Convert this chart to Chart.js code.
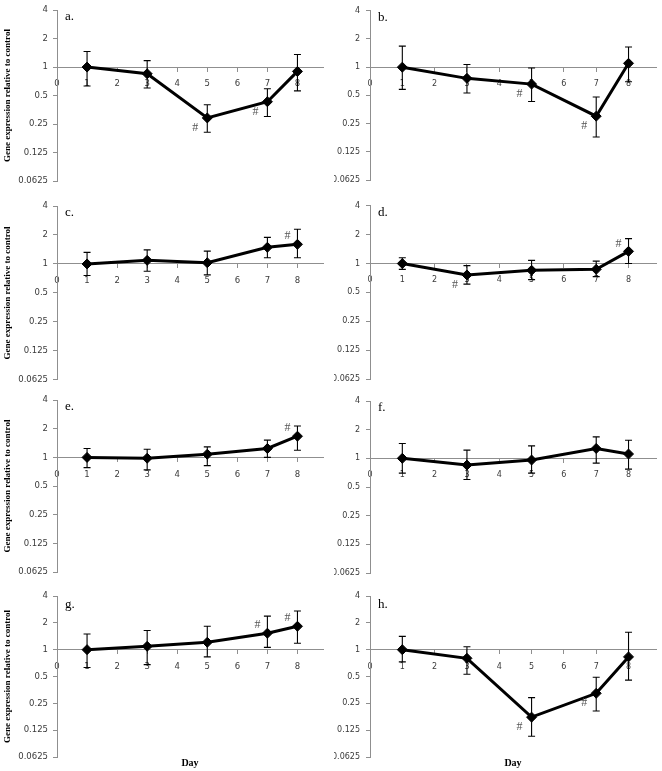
<!DOCTYPE html>
<html><head><meta charset="utf-8">
<script src="https://cdn.jsdelivr.net/npm/chart.js@4.4.0/dist/chart.umd.min.js"></script>
<style>
html,body{margin:0;padding:0;background:#fff;width:662px;height:771px;overflow:hidden;position:relative}
canvas{position:absolute;display:block}
</style></head><body>
<script>
// ---------- data ----------
const days = [1, 3, 5, 7, 8];
const xTicks = [0, 1, 2, 3, 4, 5, 6, 7, 8];
const yTicks = [0.0625, 0.125, 0.25, 0.5, 1, 2, 4];
const panelLabels = ['a.', 'b.', 'c.', 'd.', 'e.', 'f.', 'g.', 'h.'];
const yTitle = 'Gene expression relative to control';
const xTitle = 'Day';

const aMean = [1.00, 0.85, 0.29, 0.43, 0.90];
const aHigh = [1.46, 1.17, 0.40, 0.59, 1.36];
const aLow  = [0.63, 0.60, 0.205, 0.30, 0.56];
const aFlagDays = [5, 7]; const aFlagSide = ['below', 'below'];

const bMean = [1.00, 0.76, 0.66, 0.30, 1.10];
const bHigh = [1.68, 1.07, 0.98, 0.48, 1.64];
const bLow  = [0.58, 0.53, 0.43, 0.18, 0.70];
const bFlagDays = [5, 7]; const bFlagSide = ['below', 'below'];

const cMean = [1.00, 1.09, 1.03, 1.49, 1.60];
const cHigh = [1.32, 1.40, 1.36, 1.89, 2.29];
const cLow  = [0.76, 0.84, 0.77, 1.16, 1.16];
const cFlagDays = [8]; const cFlagSide = ['above'];

const dMean = [1.00, 0.76, 0.85, 0.87, 1.34];
const dHigh = [1.15, 0.95, 1.08, 1.06, 1.82];
const dLow  = [0.87, 0.61, 0.68, 0.73, 1.00];
const dFlagDays = [3, 8]; const dFlagSide = ['below', 'above'];

const eMean = [1.00, 0.98, 1.08, 1.24, 1.67];
const eHigh = [1.24, 1.22, 1.29, 1.52, 2.14];
const eLow  = [0.78, 0.74, 0.82, 1.00, 1.19];
const eFlagDays = [8]; const eFlagSide = ['above'];

const fMean = [1.00, 0.85, 0.96, 1.27, 1.11];
const fHigh = [1.43, 1.22, 1.35, 1.68, 1.55];
const fLow  = [0.70, 0.60, 0.70, 0.89, 0.77];
const fFlagDays = []; const fFlagSide = [];

const gMean = [1.00, 1.09, 1.21, 1.53, 1.83];
const gHigh = [1.50, 1.64, 1.83, 2.38, 2.71];
const gLow  = [0.63, 0.68, 0.83, 1.06, 1.18];
const gFlagDays = [7, 8]; const gFlagSide = ['above', 'above'];

const hMean = [1.00, 0.80, 0.175, 0.324, 0.83];
const hHigh = [1.41, 1.08, 0.29, 0.49, 1.57];
const hLow  = [0.73, 0.53, 0.107, 0.205, 0.455];
const hFlagDays = [5, 7]; const hFlagSide = ['below', 'below'];

const panelData = [
  [aMean, aHigh, aLow, aFlagDays, aFlagSide],
  [bMean, bHigh, bLow, bFlagDays, bFlagSide],
  [cMean, cHigh, cLow, cFlagDays, cFlagSide],
  [dMean, dHigh, dLow, dFlagDays, dFlagSide],
  [eMean, eHigh, eLow, eFlagDays, eFlagSide],
  [fMean, fHigh, fLow, fFlagDays, fFlagSide],
  [gMean, gHigh, gLow, gFlagDays, gFlagSide],
  [hMean, hHigh, hLow, hFlagDays, hFlagSide]
];

// ---------- layout (styles) ----------
const X_MAX = 8.85;
const rows = [
  {top: 0,   h: 195, L: [8, 181],   R: [7, 180]},
  {top: 195, h: 195, L: [206, 380], R: [205, 379]},
  {top: 390, h: 195, L: [399, 572], R: [401, 573]},
  {top: 585, h: 186, L: [596, 757], R: [596, 757]}
];
const cols = [
  {x: 0,   w: 331, axisW: 57, padR: 8, tickFont: 8.5, tickPad: 5},
  {x: 334, w: 328, axisW: 36, padR: 6, tickFont: 8,   tickPad: 6}
];
const AXIS_COLOR = '#8f8f8f';
const TICK_COLOR = '#3a3a3a';
const DAY_H = 12;

Chart.defaults.font.family = "'DejaVu Sans', sans-serif";
Chart.defaults.animation = false;

function makePlugins(mean, high, low, flagDays, flagSide, label, labelDy) {
  return [{
    id: 'extras',
    afterDatasetsDraw(chart) {
      const {ctx, scales: {x, y}, chartArea} = chart;
      ctx.save();
      ctx.strokeStyle = '#000';
      ctx.lineWidth = 1.1;
      days.forEach((d, i) => {
        const px = x.getPixelForValue(d);
        const pHi = y.getPixelForValue(high[i]);
        const pLo = y.getPixelForValue(low[i]);
        ctx.beginPath();
        ctx.moveTo(px, pHi); ctx.lineTo(px, pLo);
        ctx.moveTo(px - 3.5, pHi); ctx.lineTo(px + 3.5, pHi);
        ctx.moveTo(px - 3.5, pLo); ctx.lineTo(px + 3.5, pLo);
        ctx.stroke();
      });
      // # markers
      ctx.fillStyle = '#555';
      ctx.font = "12px 'Liberation Serif', serif";
      ctx.textAlign = 'center';
      ctx.textBaseline = 'middle';
      flagDays.forEach((d, k) => {
        const i = days.indexOf(d);
        const px = x.getPixelForValue(d);
        const py = y.getPixelForValue(mean[i]);
        if (flagSide[k] === 'below') ctx.fillText('#', px - 12, py + 10);
        else ctx.fillText('#', px - 10, py - 8);
      });
      // panel label
      ctx.fillStyle = '#000';
      ctx.font = "13px 'Liberation Serif', serif";
      ctx.textAlign = 'left';
      ctx.textBaseline = 'alphabetic';
      ctx.fillText(label, chartArea.left + 8, chartArea.top + labelDy);
      ctx.restore();
    }
  }];
}

panelData.forEach((pd, idx) => {
  const [mean, high, low, flagDays, flagSide] = pd;
  const r = Math.floor(idx / 2), c = idx % 2;
  const row = rows[r], col = cols[c];
  const range = c === 0 ? row.L : row.R;
  const bottomRow = r === 3;
  const padTop = range[0] - row.top;
  const padBottom = (row.top + row.h) - range[1] - (bottomRow ? DAY_H : 0);

  const cv = document.createElement('canvas');
  cv.width = col.w; cv.height = row.h;
  cv.style.left = col.x + 'px'; cv.style.top = row.top + 'px';
  cv.style.width = col.w + 'px'; cv.style.height = row.h + 'px';
  document.body.appendChild(cv);

  const scales = {
    x: {
      type: 'linear', min: 0, max: X_MAX,
      position: {y: 1},
      afterBuildTicks: s => { s.ticks = xTicks.map(v => ({value: v})); },
      afterFit: s => { s.height = 0; },
      grid: {drawOnChartArea: false, drawTicks: true, tickLength: 4, color: AXIS_COLOR},
      border: {display: true, color: AXIS_COLOR, width: 1},
      ticks: {color: TICK_COLOR, font: {size: col.tickFont}, padding: 8, maxRotation: 0, autoSkip: false,
              callback: v => String(v)}
    },
    y: {
      type: 'logarithmic', min: 0.0625, max: 4, position: 'left',
      afterBuildTicks: s => { s.ticks = yTicks.map(v => ({value: v})); },
      afterFit: s => { s.width = col.axisW; },
      grid: {drawOnChartArea: false, drawTicks: true, tickLength: 4, color: AXIS_COLOR},
      border: {display: true, color: AXIS_COLOR, width: 1},
      ticks: {color: TICK_COLOR, font: {size: col.tickFont}, padding: col.tickPad, autoSkip: false,
              callback: v => String(v)},
      title: {display: c === 0, text: yTitle, color: '#000',
              font: {family: "'Liberation Serif', serif", size: 9, weight: 'bold'},
              padding: {top: 2, bottom: 0}}
    }
  };
  if (bottomRow) {
    scales.x2 = {
      type: 'linear', min: 0, max: X_MAX, position: 'bottom',
      grid: {display: false, drawTicks: false, tickLength: 0}, border: {display: false},
      ticks: {display: false},
      afterFit: s => { s.height = DAY_H; },
      title: {display: true, text: xTitle, color: '#000', padding: 0,
              font: {family: "'Liberation Serif', serif", size: 10, weight: 'bold'}}
    };
  }

  new Chart(cv, {
    type: 'line',
    data: {
      datasets: [{
        data: days.map((d, i) => ({x: d, y: mean[i]})),
        borderColor: '#000', backgroundColor: '#000',
        borderWidth: 3, tension: 0, fill: false,
        pointStyle: 'rectRot', pointRadius: 5, pointHoverRadius: 5,
        pointBackgroundColor: '#000', pointBorderColor: '#000', pointBorderWidth: 1,
        clip: false
      }]
    },
    options: {
      responsive: false, maintainAspectRatio: false, animation: false,
      devicePixelRatio: 1,
      layout: {padding: {top: padTop, bottom: padBottom, left: 0, right: col.padR}},
      plugins: {legend: {display: false}, tooltip: {enabled: false}, title: {display: false}},
      scales
    },
    plugins: makePlugins(mean, high, low, flagDays, flagSide, panelLabels[idx], bottomRow ? 12 : 10)
  });
});
</script>
</body></html>
